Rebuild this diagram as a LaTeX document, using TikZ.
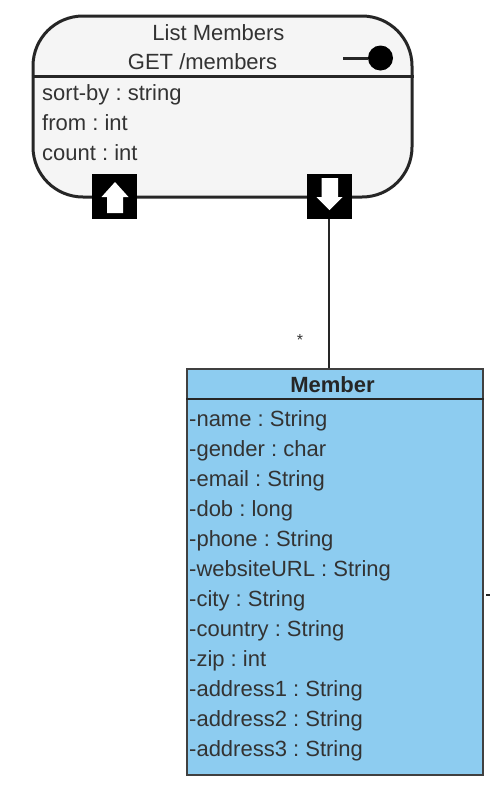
\documentclass[tikz,border=0pt]{standalone}
\usepackage{fontspec}
\setmainfont{Liberation Sans}
\definecolor{opfill}{HTML}{F5F5F5}
\definecolor{classfill}{HTML}{8DCCF0}
\definecolor{textgray}{HTML}{333333}
\begin{document}
\frenchspacing
\begin{tikzpicture}[
    x=1pt, y=-1pt,
    opbox/.style={draw=black!85, line width=3pt, fill=opfill, rounded corners=50pt, minimum width=379pt, minimum height=181pt, inner sep=0pt},
    classbox/.style={draw=black!75, line width=2pt, fill=classfill, minimum width=296pt, minimum height=406pt, inner sep=0pt},
    port/.style={fill=black, minimum size=45pt, inner sep=0pt},
    txt/.style={anchor=base west, inner sep=0pt, text=textgray, font=\fontsize{22}{26}\selectfont},
    title/.style={anchor=base, inner sep=0pt, text=textgray, font=\fontsize{22}{26}\selectfont}
]
\useasboundingbox (0, 0) rectangle (490, 788);

% Operation
\node[opbox] (op) at (222.5, 106.5) {};
\coordinate (opline) at (222, 76.5);
\draw[black!85, line width=3pt] (op.west |- opline) -- (op.east |- opline);
\node[title] (opname) at (218.5, 40) {List Members};
\node[title] (oppath) at (202.5, 69.5) {GET /members};
\node[txt] (p1) at (42, 100) {sort-by : string};
\node[txt] (p2) at (42, 130) {from : int};
\node[txt] (p3) at (42, 160) {count : int};

% Lollipop
\node[circle, fill=black, minimum size=25pt, inner sep=0pt] (ball) at (380.5, 58) {};
\coordinate (stem) at (343, 58);
\draw[black!85, line width=3pt] (stem) -- (ball);

% Ports
\node[port] (portin) at (114.5, 196) {};
\fill[white] (115, 182) -- (128.5, 197) -- (123, 197) -- (123, 213) -- (107, 213) -- (107, 197) -- (101.5, 197) -- cycle;
\node[port] (portout) at (329, 196) {};
\fill[white] (329.5, 210) -- (342.5, 197) -- (338, 197) -- (338, 178) -- (321.5, 178) -- (321.5, 197) -- (316.5, 197) -- cycle;

% Class
\node[classbox] (member) at (335, 572) {};
\coordinate (classline) at (335, 399);
\draw[black!85, line width=2pt] (member.west |- classline) -- (member.east |- classline);
\node[title, font=\fontsize{22}{26}\selectfont\bfseries, text=black!85] (mname) at (332.5, 392) {Member};
\node[txt] (a1) at (189, 426) {-name : String};
\node[txt] (a2) at (189, 456) {-gender : char};
\node[txt] (a3) at (189, 486) {-email : String};
\node[txt] (a4) at (189, 516) {-dob : long};
\node[txt] (a5) at (189, 546) {-phone : String};
\node[txt] (a6) at (189, 576) {-websiteURL : String};
\node[txt] (a7) at (189, 606) {-city : String};
\node[txt] (a8) at (189, 636) {-country : String};
\node[txt] (a9) at (189, 666) {-zip : int};
\node[txt] (a10) at (189, 696) {-address1 : String};
\node[txt] (a11) at (189, 726) {-address2 : String};
\node[txt] (a12) at (189, 756) {-address3 : String};

% Connectors
\draw[black!85, line width=2pt] (portout) -- (portout |- member.north);
\node[inner sep=0pt, text=textgray, font=\fontsize{16}{16}\selectfont] (star) at (300, 339.5) {*};
\coordinate (stub) at (490, 595);
\draw[black!85, line width=1.6pt, shorten <=2pt] (member.east |- stub) -- (stub);

\end{tikzpicture}
\end{document}
